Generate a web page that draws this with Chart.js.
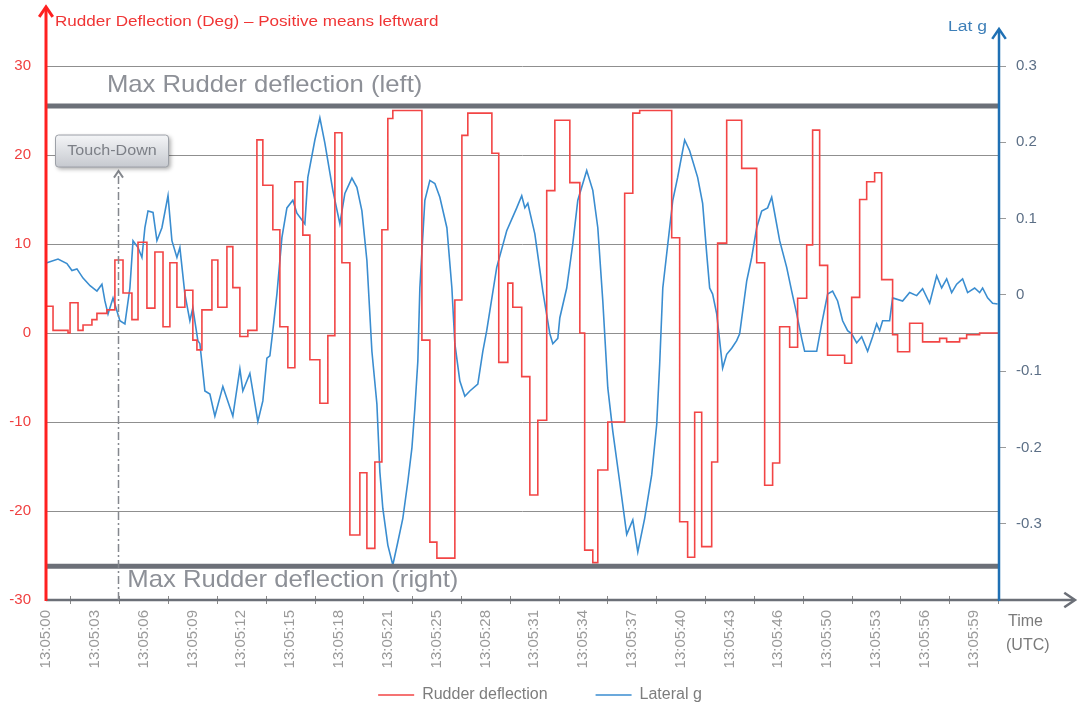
<!DOCTYPE html>
<html>
<head>
<meta charset="utf-8">
<script src="https://cdn.jsdelivr.net/npm/chart.js@4.4.1/dist/chart.umd.min.js"></script>
<style>
html, body { margin: 0; padding: 0; background: #fff; }
#wrap { width: 1080px; height: 711px; }
</style>
</head>
<body>
<div id="wrap"><canvas id="myChart" width="1080" height="711"></canvas></div>
<script>
// time = seconds after 13:05:00, one label every 25 samples (8 Hz)
const tickStep = 3.125;
const tickLabels = ['13:05:00', '13:05:03', '13:05:06', '13:05:09', '13:05:12', '13:05:15', '13:05:18',
  '13:05:21', '13:05:25', '13:05:28', '13:05:31', '13:05:34', '13:05:37', '13:05:40', '13:05:43',
  '13:05:46', '13:05:50', '13:05:53', '13:05:56', '13:05:59'];

// rudder deflection (deg), held until next time
const rudderTime = [0, 0.45, 1.41, 1.54, 2.05, 2.37, 2.94, 3.26, 3.90, 4.41,
  4.93, 5.50, 5.89, 6.46, 6.97, 7.49, 7.93, 8.38, 8.89, 9.40,
  9.66, 9.98, 10.62, 11.00, 11.58, 11.96, 12.41, 12.92, 13.50, 13.88,
  14.52, 14.97, 15.48, 15.93, 16.44, 16.89, 17.53, 18.04, 18.49, 18.94,
  19.45, 20.09, 20.54, 21.05, 21.50, 21.88, 22.20, 24.06, 24.57, 25.02,
  26.17, 26.62, 27.00, 28.54, 28.98, 29.56, 29.88, 30.45, 30.97, 31.48,
  32.05, 32.57, 33.53, 34.17, 34.48, 35.00, 35.32, 35.96, 37.04, 37.56,
  38.00, 40.05, 40.56, 41.07, 41.52, 41.97, 42.61, 42.99, 43.57, 44.53,
  45.49, 46.00, 46.51, 46.96, 47.60, 48.11, 48.69, 49.07, 49.52, 50.03,
  51.12, 51.57, 52.08, 52.53, 53.04, 53.49, 54.19, 54.51, 55.28, 56.11,
  57.20, 57.65, 58.48, 58.93, 59.76, 61];
const rudderDeg = [3.0, 0.3, 0, 3.4, 0.3, 0.9, 1.5, 2.2, 2.6, 8.2,
  4.5, 1.5, 10.2, 2.8, 9.1, 0.7, 7.9, 2.9, 4.8, -0.8,
  -1.9, 2.6, 8.2, 2.9, 9.7, 5.1, -0.4, 0.3, 21.7, 16.6,
  11.6, 0.7, -3.9, 17, 11, -3, -7.9, -0.3, 22.5, 7.9,
  -22.7, -15.7, -24.2, -14.5, 11.6, 24.1, 25, -0.8, -23.5, -25.3,
  3.7, 22.2, 24.7, 20.2, -3.3, 5.6, 2.9, -4.9, -18.2, -9.8,
  16, 23.9, 16.9, 0, -24.4, -25.8, -15.4, -10, 15.7, 24.7,
  25, 10.7, -21.2, -25.2, -8.9, -24, -14.5, 10.1, 23.9, 18.5,
  7.9, -17.1, -14.6, 0.7, -1.6, 3.9, 9.9, 22.8, 7.6, -2.5,
  -3.4, 4, 15, 17, 18, 6, -0.2, -2.1, 1.1, -1,
  -0.6, -1, -0.6, -0.2, 0, 0];

// lateral g
const latTime = [0.06, 0.77, 1.34, 1.66, 1.98, 2.37, 2.82, 3.26, 3.58, 3.77,
  3.97, 4.29, 4.73, 5.05, 5.37, 5.57, 5.89, 6.14, 6.33, 6.53,
  6.85, 7.10, 7.42, 7.81, 8.06, 8.38, 8.57, 8.89, 9.21, 9.40,
  9.72, 9.85, 10.17, 10.49, 10.81, 11.32, 11.96, 12.41, 12.60, 13.05,
  13.56, 13.88, 14.14, 14.33, 14.52, 14.78, 15.10, 15.42, 15.80, 16.06,
  16.57, 16.76, 17.21, 17.53, 17.85, 18.36, 18.81, 19.13, 19.58, 19.90,
  20.22, 20.54, 20.86, 21.18, 21.37, 21.56, 21.88, 22.20, 22.52, 22.84,
  23.16, 23.42, 23.61, 23.80, 23.93, 24.25, 24.57, 24.89, 25.21, 25.66,
  25.98, 26.17, 26.49, 26.81, 27.13, 27.64, 27.96, 28.21, 28.85, 29.49,
  30.13, 30.45, 30.65, 30.84, 31.29, 31.80, 32.25, 32.44, 32.76, 32.89,
  33.33, 33.72, 34.04, 34.61, 35.00, 35.32, 35.64, 35.96, 36.28, 36.72,
  37.17, 37.56, 37.88, 38.32, 38.77, 39.09, 39.28, 39.48, 40.12, 40.43,
  40.88, 41.20, 41.71, 42.03, 42.29, 42.48, 42.67, 42.93, 43.12, 43.31,
  43.57, 43.89, 44.21, 44.40, 44.85, 45.17, 45.49, 45.81, 46.19, 46.45,
  46.64, 46.96, 47.41, 47.73, 48.05, 48.37, 48.56, 49.33, 49.65, 50.03,
  50.35, 50.67, 50.99, 51.31, 51.57, 51.89, 52.21, 52.59, 52.91, 53.17,
  53.36, 53.55, 54.00, 54.19, 54.83, 55.28, 55.73, 56.11, 56.56, 57.01,
  57.33, 57.65, 57.97, 58.29, 58.67, 58.99, 59.44, 59.76, 59.95, 60.27,
  60.59, 60.91];
const latG = [0.042, 0.047, 0.041, 0.032, 0.034, 0.022, 0.012, 0.005, 0.014, -0.008,
  -0.025, -0.004, -0.034, -0.038, 0.009, 0.071, 0.062, 0.049, 0.088, 0.11,
  0.108, 0.071, 0.088, 0.13, 0.071, 0.049, 0.062, 0.001, -0.034, -0.017,
  -0.06, -0.064, -0.126, -0.13, -0.159, -0.12, -0.159, -0.097, -0.126, -0.103,
  -0.166, -0.139, -0.083, -0.08, -0.047, 0.001, 0.075, 0.114, 0.124, 0.107,
  0.093, 0.154, 0.203, 0.232, 0.199, 0.137, 0.093, 0.133, 0.153, 0.141,
  0.11, 0.045, -0.074, -0.143, -0.232, -0.28, -0.328, -0.354, -0.324, -0.293,
  -0.245, -0.201, -0.149, -0.087, 0.009, 0.124, 0.15, 0.146, 0.128, 0.088,
  0.009, -0.064, -0.113, -0.133, -0.126, -0.117, -0.074, -0.047, 0.036, 0.084,
  0.114, 0.13, 0.114, 0.12, 0.08, 0.005, -0.051, -0.064, -0.057, -0.03,
  0.009, 0.067, 0.124, 0.163, 0.137, 0.088, -0.008, -0.122, -0.179, -0.245,
  -0.314, -0.295, -0.337, -0.293, -0.236, -0.17, -0.091, 0.009, 0.124, 0.154,
  0.203, 0.189, 0.154, 0.12, 0.054, 0.009, 0.001, -0.025, -0.06, -0.096,
  -0.078, -0.07, -0.06, -0.051, 0.018, 0.049, 0.088, 0.11, 0.114, 0.128,
  0.107, 0.071, 0.036, 0.005, -0.025, -0.057, -0.074, -0.074, -0.038, 0.001,
  0.005, -0.008, -0.034, -0.047, -0.051, -0.063, -0.055, -0.074, -0.055, -0.038,
  -0.047, -0.034, -0.034, -0.004, -0.008, 0.003, -0.001, 0.008, -0.011, 0.025,
  0.009, 0.021, 0.003, 0.014, 0.021, 0.003, 0.009, 0.003, 0.009, -0.004,
  -0.011, -0.012];

// annotations
const maxLeftDeg = 25.5;
const maxRightDeg = -26.2;
const touchDownT = 4.6;
const touchDownTipDeg = 18.2;

const FONT = "'Liberation Sans', Arial, sans-serif";
const RED = '#f24545';
const BLUE = '#3a8dd0';
const LEGEND_GAP = 48;

function toPoints(xs, ys) {
  return xs.map((t, i) => ({ x: t, y: ys[i] }));
}

function chevron(ctx, x, y, dx, dy, size) {
  // open arrow head pointing along (dx, dy)
  const ang = Math.atan2(dy, dx);
  ctx.beginPath();
  ctx.moveTo(x - size * Math.cos(ang - 0.6), y - size * Math.sin(ang - 0.6));
  ctx.lineTo(x, y);
  ctx.lineTo(x - size * Math.cos(ang + 0.6), y - size * Math.sin(ang + 0.6));
  ctx.stroke();
}

// text a bit wider than the font, like the original picture
function wideText(ctx, text, x, y, sx) {
  ctx.save();
  ctx.translate(x, y);
  ctx.scale(sx, 1);
  ctx.fillText(text, 0, 0);
  ctx.restore();
}

//DECORATIONS: axes arrows, titles, max lines, touch down
const decor = {
  id: 'decor',
  afterLayout(chart) {
    // the time labels may run below the (short) x box, into the legend padding
    chart.scales.x.bottom = chart.height;
  },
  afterDatasetsDraw(chart) {
    const { ctx, chartArea: a, scales } = chart;
    const x = scales.x, y = scales.y;
    ctx.save();
    ctx.strokeStyle = '#6c7078';
    ctx.lineWidth = 5;
    [maxLeftDeg, maxRightDeg].forEach(v => {
      const py = y.getPixelForValue(v);
      ctx.beginPath();
      ctx.moveTo(a.left, py);
      ctx.lineTo(a.right, py);
      ctx.stroke();
    });
    ctx.fillStyle = '#8d9097';
    ctx.font = '24px ' + FONT;
    ctx.textBaseline = 'middle';
    wideText(ctx, 'Max Rudder deflection (left)', x.getPixelForValue(3.9), y.getPixelForValue(maxLeftDeg) - 21, 1.07);
    wideText(ctx, 'Max Rudder deflection (right)', x.getPixelForValue(5.2), y.getPixelForValue(maxRightDeg) + 14, 1.07);
    ctx.restore();
  },
  afterDraw(chart) {
    const { ctx, chartArea: a, scales } = chart;
    const x = scales.x, y = scales.y;
    ctx.save();

    // small marks between time labels
    ctx.strokeStyle = '#8a8a8a';
    ctx.lineWidth = 1;
    for (let i = 0; i < tickLabels.length; i++) {
      const px = Math.round(x.getPixelForValue((i + 0.5) * tickStep)) + 0.5;
      if (px > a.right) break;
      ctx.beginPath();
      ctx.moveTo(px, a.bottom - 4);
      ctx.lineTo(px, a.bottom + 4);
      ctx.stroke();
    }

    // time axis
    ctx.strokeStyle = '#6b6f77';
    ctx.lineWidth = 2.5;
    ctx.beginPath();
    ctx.moveTo(a.left, a.bottom);
    ctx.lineTo(1074, a.bottom);
    ctx.stroke();
    chevron(ctx, 1075, a.bottom, 1, 0, 13);

    // right axis
    ctx.strokeStyle = '#1f70b4';
    ctx.lineWidth = 2.5;
    ctx.beginPath();
    ctx.moveTo(a.right, a.bottom + 1);
    ctx.lineTo(a.right, 30);
    ctx.stroke();
    chevron(ctx, a.right, 29, 0, -1, 12);

    // left axis
    ctx.strokeStyle = '#ff2020';
    ctx.lineWidth = 3;
    ctx.beginPath();
    ctx.moveTo(a.left, a.bottom + 1);
    ctx.lineTo(a.left, 8);
    ctx.stroke();
    chevron(ctx, a.left, 7, 0, -1, 12);

    // axis titles
    ctx.textBaseline = 'middle';
    ctx.font = '14px ' + FONT;
    ctx.fillStyle = '#f03535';
    ctx.textAlign = 'left';
    wideText(ctx, 'Rudder Deflection (Deg) \u2013 Positive means leftward', a.left + 9, 22, 1.22);
    ctx.fillStyle = '#3d7fb8';
    ctx.textAlign = 'right';
    wideText(ctx, 'Lat g', a.right - 12, 27, 1.25);
    ctx.fillStyle = '#7a7a7a';
    ctx.font = '16px ' + FONT;
    ctx.textAlign = 'left';
    ctx.fillText('Time', 1008, a.bottom + 22);
    ctx.fillText('(UTC)', 1006, a.bottom + 46);

    // touch down marker
    const tx = Math.round(x.getPixelForValue(touchDownT)) + 0.5;
    const tipY = y.getPixelForValue(touchDownTipDeg);
    ctx.strokeStyle = '#85888e';
    ctx.lineWidth = 1.5;
    ctx.setLineDash([8, 3, 2, 3]);
    ctx.beginPath();
    ctx.moveTo(tx, a.bottom);
    ctx.lineTo(tx, tipY + 2);
    ctx.stroke();
    ctx.setLineDash([]);
    ctx.lineWidth = 2;
    chevron(ctx, tx, tipY, 0, -1, 8);

    const bw = 113, bh = 32;
    const bx = tx - 63, by = tipY - bh - 4;
    ctx.shadowColor = 'rgba(0,0,0,0.35)';
    ctx.shadowBlur = 4;
    ctx.shadowOffsetX = 2;
    ctx.shadowOffsetY = 2;
    const g = ctx.createLinearGradient(0, by, 0, by + bh);
    g.addColorStop(0, '#f4f5f7');
    g.addColorStop(1, '#c6c9cf');
    ctx.fillStyle = g;
    ctx.beginPath();
    ctx.roundRect(bx, by, bw, bh, 3);
    ctx.fill();
    ctx.shadowColor = 'transparent';
    ctx.strokeStyle = '#9da1a8';
    ctx.lineWidth = 1;
    ctx.stroke();
    ctx.fillStyle = '#7c7f86';
    ctx.font = '14px ' + FONT;
    ctx.textAlign = 'center';
    wideText(ctx, 'Touch-Down', bx + bw / 2, by + bh / 2, 1.15);
    ctx.restore();
  }
};

const config = {
  type: 'line',
  data: {
    datasets: [{
      label: 'Rudder deflection',
      data: toPoints(rudderTime, rudderDeg),
      borderColor: RED,
      backgroundColor: RED,
      borderWidth: 1.6,
      stepped: 'before',
      pointRadius: 0,
      yAxisID: 'y'
    }, {
      label: 'Lateral g',
      data: toPoints(latTime, latG),
      borderColor: BLUE,
      backgroundColor: BLUE,
      borderWidth: 1.6,
      tension: 0,
      pointRadius: 0,
      yAxisID: 'y1'
    }]
  },
  options: {
    responsive: false,
    animation: false,
    devicePixelRatio: 1,
    // legend padding is also the gap between its items, so let it hang a little lower
    layout: { padding: { top: 66, left: 0, right: 0, bottom: -2 } },
    plugins: {
      tooltip: { enabled: false },
      legend: {
        position: 'bottom',
        labels: {
          usePointStyle: true,
          pointStyle: 'line',
          pointStyleWidth: 36,
          padding: LEGEND_GAP,
          color: '#7d7d7d',
          font: { size: 16, family: FONT },
          sort: (p, q) => p.datasetIndex - q.datasetIndex
        }
      }
    },
    scales: {
      x: {
        type: 'linear',
        min: 0,
        max: 61,
        grid: { display: false, drawTicks: false },
        border: { display: false },
        afterBuildTicks: (s) => { s.ticks = tickLabels.map((_, i) => ({ value: i * tickStep })); },
        afterFit: (s) => { s.height = 87 - LEGEND_GAP; s.paddingLeft = 0; s.paddingRight = 0; },
        ticks: {
          autoSkip: false,
          minRotation: 90,
          maxRotation: 90,
          padding: 10,
          color: '#9a9a9a',
          font: { size: 15, family: FONT },
          callback: (v, i) => tickLabels[i]
        }
      },
      y: {
        position: 'left',
        min: -30,
        max: 30,
        afterFit: (s) => { s.width = 46; s.paddingTop = 0; s.paddingBottom = 0; },
        grid: { color: '#8f8f8f', lineWidth: 1, drawTicks: false },
        border: { display: false },
        ticks: { stepSize: 10, padding: 15, color: '#f04040', font: { size: 15, family: FONT } }
      },
      y1: {
        position: 'right',
        min: -0.4,
        max: 0.3,
        afterFit: (s) => { s.width = 81; s.paddingTop = 0; s.paddingBottom = 0; },
        grid: {
          drawOnChartArea: false,
          tickLength: 7,
          color: (c) => (c.tick && c.tick.value < -0.35 ? 'rgba(0,0,0,0)' : '#9a9a9a')
        },
        border: { display: false },
        ticks: {
          stepSize: 0.1,
          padding: 10,
          color: '#5c6f86',
          font: { size: 15, family: FONT },
          callback: (v) => (v < -0.35 ? '' : (Math.abs(v) < 1e-9 ? '0' : v.toFixed(1)))
        }
      }
    }
  },
  plugins: [decor]
};

const myChart = new Chart(document.getElementById('myChart'), config);
</script>
</body>
</html>
